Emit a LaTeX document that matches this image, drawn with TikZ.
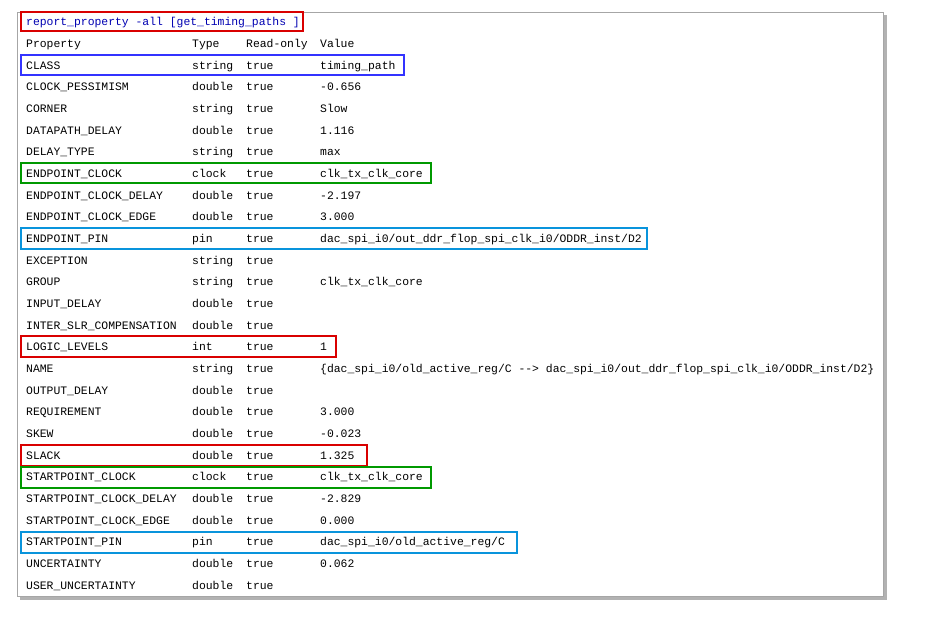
\documentclass[tikz,border=0pt]{standalone}
\usepackage{fontspec}
\setmonofont{Liberation Mono}
\begin{document}
\begin{tikzpicture}[x=1pt,y=-1pt,
  txt/.style={anchor=base west,inner sep=0pt,font=\ttfamily\fontsize{11.4}{13}\selectfont},
  hl/.style={line width=1.4pt}]
\useasboundingbox (0,0) rectangle (936,616);
\fill[gray!60] (20,15) rectangle (887,600);
\fill[white] (17,12) rectangle (883,596);
\draw[gray!70,line width=0.8pt] (17,12) rectangle (883,596);
\node[txt,text=blue!70!black] (cmd) at (26,25) {report\_property -all [get\_timing\_paths ]};
\node[txt] (hp) at (26,47) {Property};
\node[txt] (ht) at (192,47) {Type};
\node[txt] (hr) at (246,47) {Read-only};
\node[txt] (hv) at (320,47) {Value};
\foreach \i/\p/\t/\v in {
0/CLASS/string/timing\_path,
1/CLOCK\_PESSIMISM/double/-0.656,
2/CORNER/string/Slow,
3/DATAPATH\_DELAY/double/1.116,
4/DELAY\_TYPE/string/max,
5/ENDPOINT\_CLOCK/clock/clk\_tx\_clk\_core,
6/ENDPOINT\_CLOCK\_DELAY/double/-2.197,
7/ENDPOINT\_CLOCK\_EDGE/double/3.000,
8/ENDPOINT\_PIN/pin/dac\_spi\_i0\slash out\_ddr\_flop\_spi\_clk\_i0\slash ODDR\_inst\slash D2,
9/EXCEPTION/string/,
10/GROUP/string/clk\_tx\_clk\_core,
11/INPUT\_DELAY/double/,
12/INTER\_SLR\_COMPENSATION/double/,
13/LOGIC\_LEVELS/int/1,
14/NAME/string/{\{dac\_spi\_i0\slash old\_active\_reg\slash C --> dac\_spi\_i0\slash out\_ddr\_flop\_spi\_clk\_i0\slash ODDR\_inst\slash D2\}},
15/OUTPUT\_DELAY/double/,
16/REQUIREMENT/double/3.000,
17/SKEW/double/-0.023,
18/SLACK/double/1.325,
19/STARTPOINT\_CLOCK/clock/clk\_tx\_clk\_core,
20/STARTPOINT\_CLOCK\_DELAY/double/-2.829,
21/STARTPOINT\_CLOCK\_EDGE/double/0.000,
22/STARTPOINT\_PIN/pin/dac\_spi\_i0\slash old\_active\_reg\slash C,
23/UNCERTAINTY/double/0.062,
24/USER\_UNCERTAINTY/double/}{
  \pgfmathsetmacro\yy{69+21.67*\i}
  \node[txt] (p\i) at (26,\yy) {\p};
  \node[txt] (t\i) at (192,\yy) {\t};
  \node[txt] (r\i) at (246,\yy) {true};
  \node[txt] (v\i) at (320,\yy) {\v};
}
\draw[hl,red!85!black] (21,12) rectangle (303,31);
\draw[hl,blue!80] (21,55) rectangle (404,75);
\draw[hl,green!60!black] (21,163) rectangle (431,183);
\draw[hl,cyan!80!blue] (21,228) rectangle (647,249);
\draw[hl,red!85!black] (21,336) rectangle (336,357);
\draw[hl,red!85!black] (21,445) rectangle (367,466);
\draw[hl,green!60!black] (21,467) rectangle (431,488);
\draw[hl,cyan!80!blue] (21,532) rectangle (517,553);
\end{tikzpicture}
\end{document}
